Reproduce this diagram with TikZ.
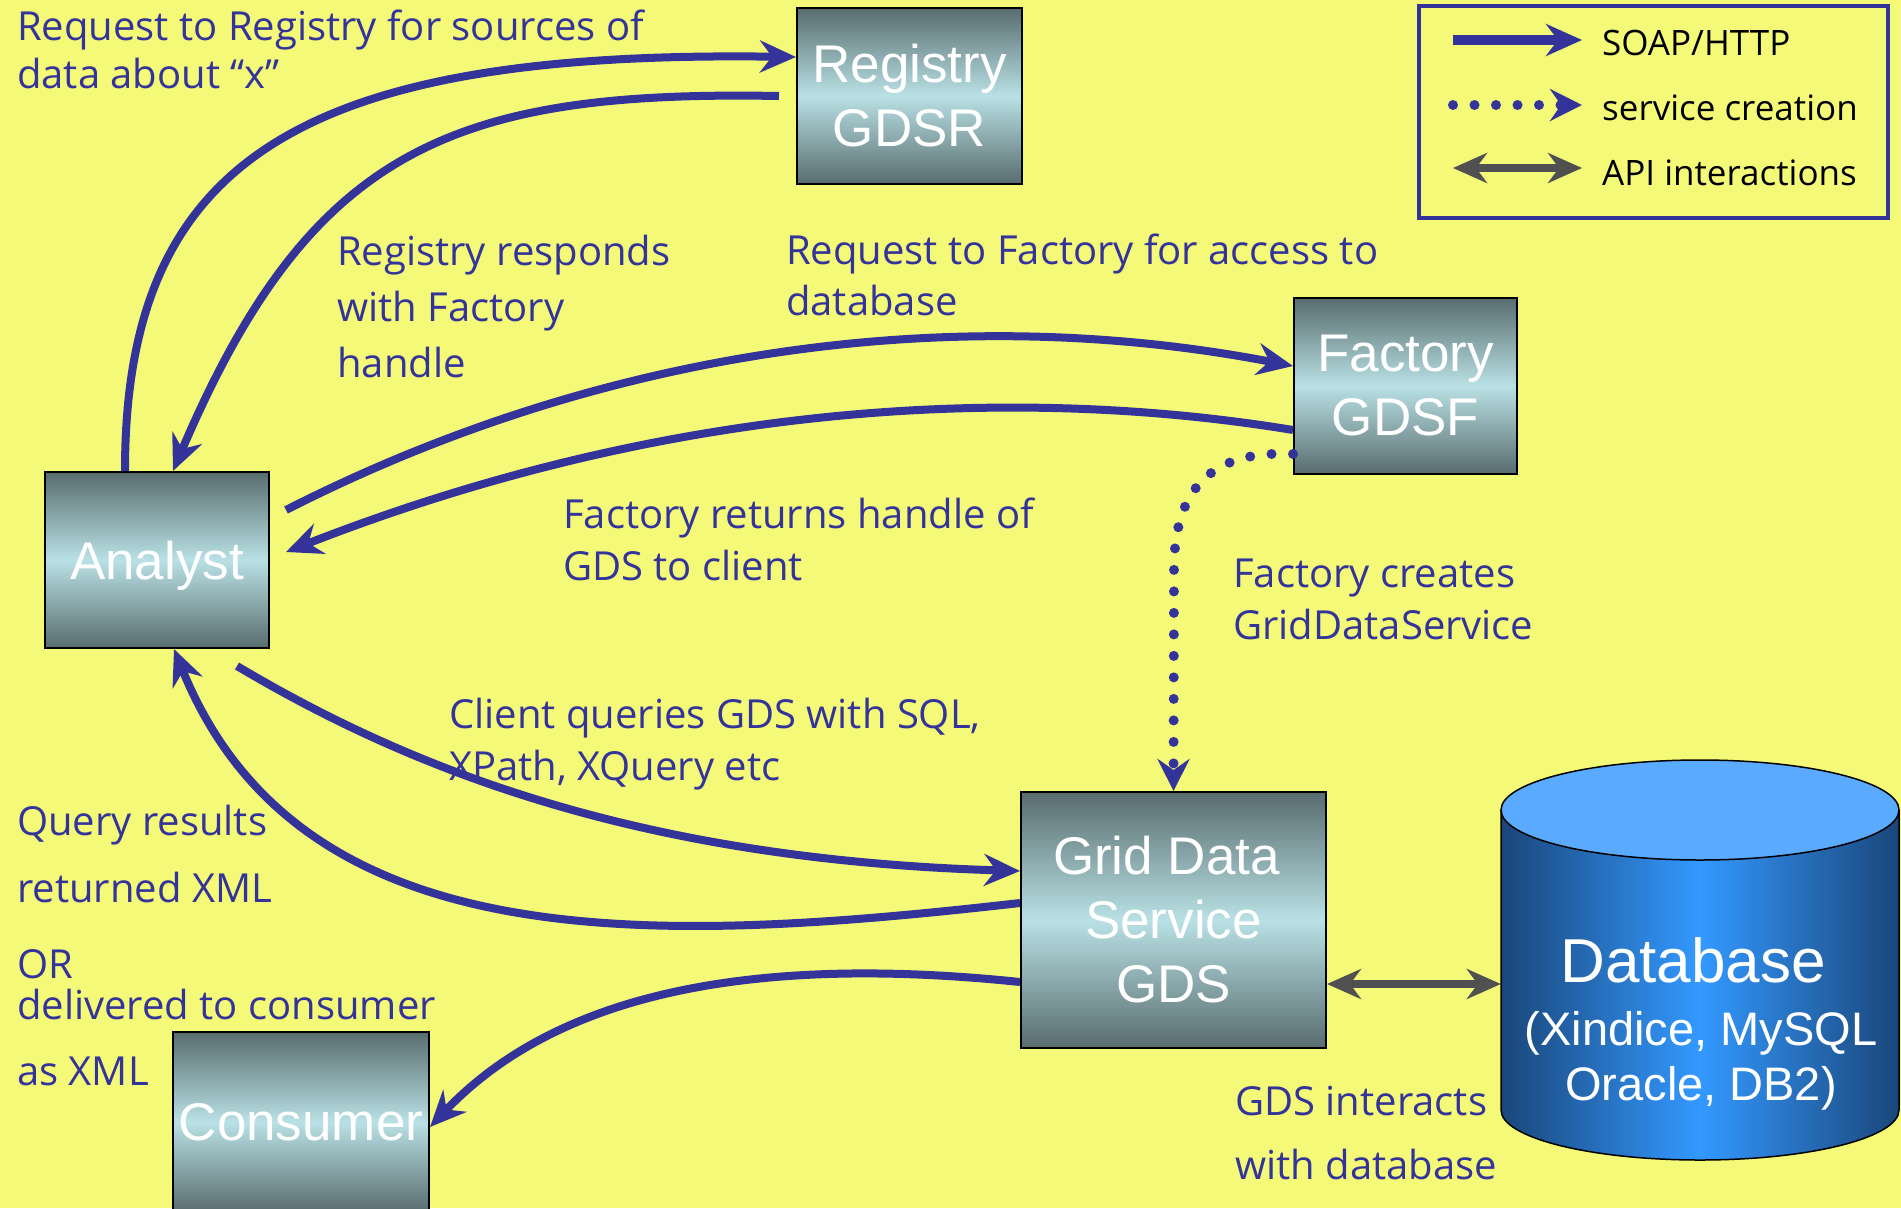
\documentclass[tikz,border=0pt]{standalone}
\usepackage{fontspec}
\setmainfont{Liberation Sans}
\newfontfamily\labfont{Open Sans}
\usetikzlibrary{arrows.meta,calc}
\definecolor{bg}{RGB}{244,250,120}
\definecolor{dblue}{RGB}{51,51,153}
\definecolor{boxdark}{RGB}{88,108,110}
\definecolor{boxlight}{RGB}{185,225,229}
\definecolor{dbdark}{RGB}{26,70,122}
\definecolor{dbmid}{RGB}{51,153,255}
\definecolor{dbtop}{RGB}{90,170,255}
\definecolor{apigrey}{RGB}{80,80,80}
\begin{document}
\begin{tikzpicture}[x=1pt,y=-1pt,
  box/.style={draw=black, line width=2pt, top color=boxdark, bottom color=boxdark, middle color=boxlight,
    text=white, font=\fontsize{53}{64}\selectfont, align=center, inner sep=0pt},
  lab/.style={text=dblue, font=\labfont\fontsize{40}{52}\selectfont, anchor=base west, align=left, inner sep=0pt},
  legtext/.style={text=black, font=\labfont\fontsize{35}{35}\selectfont, anchor=base west, inner sep=0pt},
  soap/.style={draw=dblue, line width=8pt, -{Stealth[length=36pt,width=32pt,inset=12pt]}},
  dots/.style={draw=dblue, line width=10pt, line cap=round, dash pattern=on 0pt off 21.5pt,
    -{Stealth[length=32pt,width=32pt,inset=11pt]}},
  api/.style={draw=apigrey, line width=8pt, {Stealth[length=34pt,width=30pt,inset=11pt]}-{Stealth[length=34pt,width=30pt,inset=11pt]}},
  dbtext/.style={text=white, anchor=base, inner sep=0pt}
]
\useasboundingbox (0,0) rectangle (1901,1208);
\fill[bg] (0,0) rectangle (1901,1208);

% boxes
\node[box, minimum width=225pt, minimum height=176pt] (registry) at (909.5,96) {Registry\\GDSR};
\node[box, minimum width=224pt, minimum height=176pt, text depth=0pt] (analyst) at (157,560) {Analyst};
\node[box, minimum width=223pt, minimum height=176pt] (factory) at (1405.5,386) {Factory\\GDSF};
\node[box, minimum width=305pt, minimum height=256pt] (gds) at (1173.5,920) {Grid Data\hspace*{14pt}\\Service\\GDS};
\node[box, minimum width=256pt, minimum height=180pt, text depth=0pt] (consumer) at (301,1122) {Consumer};

% database cylinder
\node[minimum width=398pt, minimum height=10pt, inner sep=0pt] (db) at (1700,984) {};
\path[draw=black, line width=1.5pt, left color=dbdark, right color=dbdark, middle color=dbmid]
  (1501,810) -- (1501,1110) .. controls (1501,1137.6) and (1590,1160) .. (1700,1160)
  .. controls (1810,1160) and (1899,1137.6) .. (1899,1110) -- (1899,810) -- cycle;
\filldraw[fill=dbtop, draw=black, line width=1.5pt] (1700,810) ellipse [x radius=199pt, y radius=50pt];
\node[dbtext, font=\fontsize{62}{62}\selectfont] (dbt1) at (1693,982) {Database};
\node[dbtext, font=\fontsize{47}{47}\selectfont] (dbt2) at (1701,1045) {(Xindice, MySQL};
\node[dbtext, font=\fontsize{47}{47}\selectfont] (dbt3) at (1701,1100) {Oracle, DB2)};

% connectors
\draw[soap] ([xshift=-32pt]analyst.north) .. controls (125,160) and (300,50) .. ([yshift=39pt]registry.west);
\draw[soap] ([xshift=-17pt]registry.west) .. controls (450,90) and (310,150) .. ([xshift=16pt]analyst.north);
\draw[soap] ([shift={(16pt,50pt)}]analyst.east) .. controls (600,350) and (950,300) .. ([yshift=20pt]factory.west);
\draw[soap] ([yshift=-44pt]factory.west) .. controls (1050,390) and (700,390) .. ([shift={(16pt,8pt)}]analyst.east);
\draw[dots] ([yshift=-68pt]factory.west) .. controls (1210,450) and (1174,490) .. (1174,570) -- (gds.north);
\draw[soap] ([shift={(80pt,-17pt)}]analyst.south) .. controls (420,775) and (650,860) .. ([yshift=49pt]gds.west);
\draw[soap] ([yshift=17pt]gds.west) .. controls (650,945) and (300,960) .. ([xshift=17pt]analyst.south);
\draw[soap] ([yshift=-62pt]gds.west) .. controls (760,955) and (560,990) .. ([yshift=-5pt]consumer.east);
\draw[api] (db.west -| gds.east) -- (db.west);

% labels (anchor = baseline of last line)
\node[lab] (l1) at (17,88) {Request to Registry for sources of\\[-4pt]data about “x”};
\node[lab] (l2) at (337,377) {Registry responds\\[4pt]with Factory\\[4pt]handle};
\node[lab] (l3) at (786,315) {Request to Factory for access to\\[-1pt]database};
\node[lab] (l4) at (563,580) {Factory returns handle of\\GDS to client};
\node[lab] (l5) at (1233,639) {Factory creates\\GridDataService};
\node[lab] (l6) at (449,780) {Client queries GDS with SQL,\\XPath, XQuery etc};
\node[lab] (l7a) at (17,835) {Query results};
\node[lab] (l7b) at (17,902) {returned XML};
\node[lab] (l7c) at (17,978) {OR};
\node[lab] (l7d) at (17,1019) {delivered to consumer};
\node[lab] (l7e) at (17,1085) {as XML};
\node[lab] (l8a) at (1235,1115) {GDS interacts};
\node[lab] (l8b) at (1235,1179) {with database};

% legend
\node[draw=dblue, line width=4pt, minimum width=469pt, minimum height=212pt, inner sep=0pt] (legend) at (1653.5,112) {};
\coordinate (ls1) at (1453,40);  \coordinate (le1) at (1582,40);
\coordinate (ls2) at (1453,105); \coordinate (le2) at (1582,105);
\coordinate (ls3) at (1453,168); \coordinate (le3) at (1582,168);
\draw[soap, line width=10pt] (ls1) -- (le1);
\draw[dots] (ls2) -- (le2);
\draw[api] (ls3) -- (le3);
\node[legtext] (lt1) at (1602,55) {SOAP/HTTP};
\node[legtext] (lt2) at (1602,120) {service creation};
\node[legtext] (lt3) at (1602,185) {API interactions};
\end{tikzpicture}
\end{document}
